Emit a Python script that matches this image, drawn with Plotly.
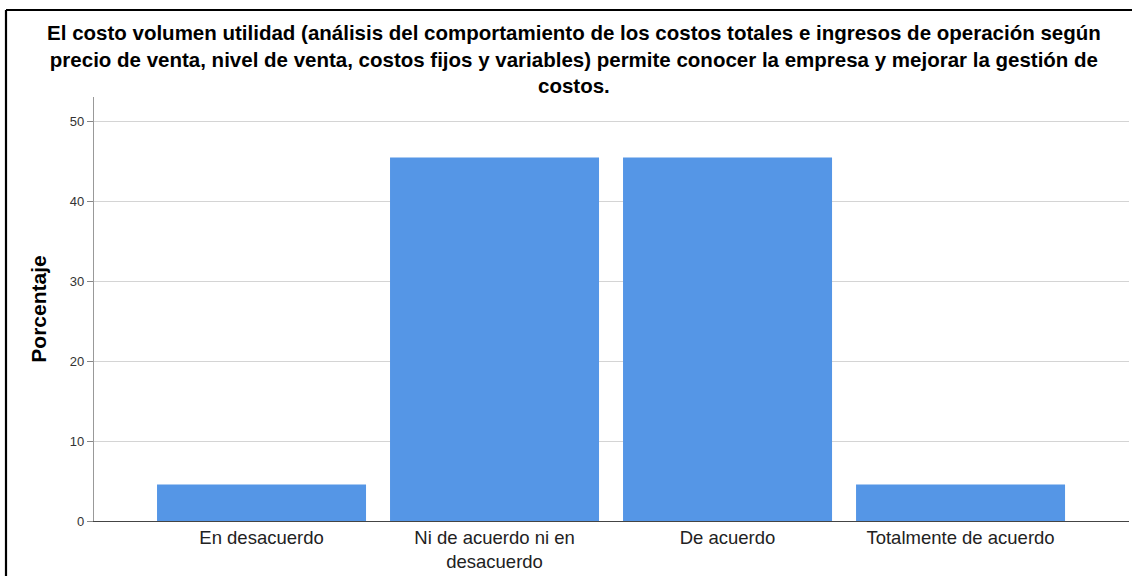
import plotly.graph_objects as go

categories = ["En desacuerdo", "Ni de acuerdo ni en<br>desacuerdo", "De acuerdo", "Totalmente de acuerdo"]
porcentaje = [4.55, 45.45, 45.45, 4.55]
y_ticks = [0, 10, 20, 30, 40, 50]

title_text = ("El costo volumen utilidad (análisis del comportamiento de los costos totales e ingresos de operación según<br>"
              "precio de venta, nivel de venta, costos fijos y variables) permite conocer la empresa y mejorar la gestión de<br>"
              "costos.")

W, H = 1132, 576
L, R, T, B = 94, 3, 97, 55
pw, ph = W - L - R, H - T - B

fig = go.Figure(go.Bar(
    x=list(range(len(categories))), y=porcentaje,
    marker=dict(color="#5596E6", line=dict(width=0)),
    width=0.897, hoverinfo="skip"))

fig.update_layout(
    width=W, height=H,
    margin=dict(l=L, r=R, t=T, b=B),
    paper_bgcolor="white", plot_bgcolor="white",
    font=dict(family="Liberation Sans, Arial", color="#222"),
    showlegend=False,
    title=dict(text=title_text, x=0.507, xanchor="center", y=1 - 40 / H, yanchor="middle",
               font=dict(size=20.5, family="Liberation Sans, Arial", color="black", weight="bold")),
    xaxis=dict(tickmode="array", tickvals=list(range(len(categories))), ticktext=categories,
               range=[-0.719, 3.723], showgrid=False, zeroline=False,
               showline=True, linecolor="#444", linewidth=1.2, ticks="",
               tickfont=dict(size=18.5, color="#222")),
    yaxis=dict(range=[0, 53], tickvals=y_ticks, showgrid=True, gridcolor="#d4d4d4", gridwidth=1.3,
               zeroline=False, showline=True, linecolor="#999", linewidth=1.3,
               ticks="outside", ticklen=6, tickcolor="#888", tickwidth=1,
               tickfont=dict(size=13, color="#333"),
               title=dict(text="Porcentaje", font=dict(size=21, color="black", weight="bold"), standoff=17)),
)

# outer frame (left and top edges visible in the reference)
x_left = (6 - L) / pw
y_top = (H - B - 10) / ph
fig.add_shape(type="line", xref="paper", yref="paper", x0=x_left, x1=x_left, y0=-0.5, y1=y_top,
              line=dict(color="black", width=2.2))
fig.add_shape(type="line", xref="paper", yref="paper", x0=x_left, x1=1.5, y0=y_top, y1=y_top,
              line=dict(color="black", width=2.2))

fig.write_html("out.html", config={"displayModeBar": False},
               post_script="document.body.style.margin='0';document.body.style.overflow='hidden';")
